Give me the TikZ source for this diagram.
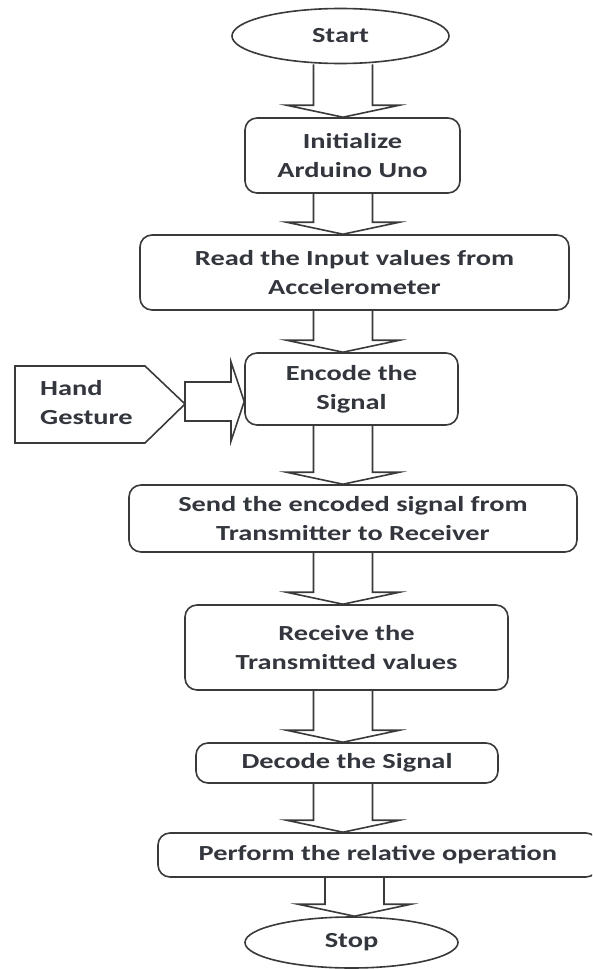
\documentclass[tikz,border=0pt]{standalone}
\usepackage{fontspec}
\setmainfont{Carlito}[FakeStretch=1.32]
\usetikzlibrary{shapes.geometric,calc,backgrounds}
\definecolor{linec}{HTML}{3A3A3A}
\definecolor{textc}{HTML}{33363D}
\tikzset{
  lbl/.style={text=textc, font=\fontsize{21.5}{29}\selectfont\bfseries},
  box/.style={lbl, draw=linec, line width=1.6pt, rounded corners=12pt, fill=white,
    align=center, inner sep=0pt},
  oval/.style={lbl, draw=linec, line width=1.6pt, ellipse, fill=white, inner sep=0pt},
  barrow/.style={draw=linec, line width=1.6pt, fill=white, line join=miter},
  outline/.style={draw=linec, line width=1.6pt},
}
% block arrow from node #1 down to node #2, axis at x = #3
\newcommand\bdarrow[3]{%
  \draw[barrow] let \p1=(#1.south), \p2=(#2.north) in
    ({#3pt-29.5pt},\y1) -- ({#3pt-29.5pt},\y2+12pt) -- ({#3pt-56.5pt},\y2+12pt)
    -- (#3pt,\y2) -- ({#3pt+56.5pt},\y2+12pt) -- ({#3pt+29.5pt},\y2+12pt)
    -- ({#3pt+29.5pt},\y1);
}
\begin{document}
\begin{tikzpicture}[x=1pt,y=-1pt]
\useasboundingbox (0,0) rectangle (592,969);
\clip (0,0) rectangle (592,969);

\node[oval, minimum width=217, minimum height=55] (start) at (340.5,36) {Start};
\node[box, minimum width=215, minimum height=75] (init) at (352.5,155.5) {Initialize\\Arduino Uno};
\node[box, minimum width=429, minimum height=75] (read) at (354.5,272.5) {Read the Input values from\\Accelerometer};
\node[box, minimum width=213, minimum height=72] (encode) at (351.5,389) {Encode the\\Signal};
\node[box, minimum width=448, minimum height=67] (send) at (353,518.5) {Send the encoded signal from\\Transmitter to Receiver};
\node[box, minimum width=323, minimum height=85] (recv) at (346.5,647.5) {Receive the\\Transmitted values};
\node[box, minimum width=302, minimum height=40] (decode) at (347,763) {Decode the Signal};
\node[box, minimum width=440, minimum height=44] (perform) at (378,855) {Perform the relative operation};
\node[oval, minimum width=213, minimum height=51] (stop) at (351.5,942.5) {Stop};

% hand gesture input
\coordinate (handtip) at (185,404);
\draw[outline, fill=white] (15,366) -- (145,366) -- (handtip) -- (145,443) -- (15,443) -- cycle;
\node[lbl, anchor=west, align=left, inner sep=0pt] (hand) at (40,402.5) {Hand\\Gesture};

\begin{scope}[on background layer]
  \fill[white] (0,0) rectangle (592,969);
  \bdarrow{start}{init}{343}
  \bdarrow{init}{read}{343}
  \bdarrow{read}{encode}{343}
  \bdarrow{encode}{send}{343}
  \bdarrow{send}{recv}{343}
  \bdarrow{recv}{decode}{343}
  \bdarrow{decode}{perform}{343}
  \bdarrow{perform}{stop}{354.5}
  \draw[barrow] (handtip |- 0,382) -- (231,382) -- (231,362) -- (encode.west |- 0,401.5)
    -- (231,441) -- (231,421) -- (handtip |- 0,421) -- cycle;
\end{scope}
\end{tikzpicture}
\end{document}
